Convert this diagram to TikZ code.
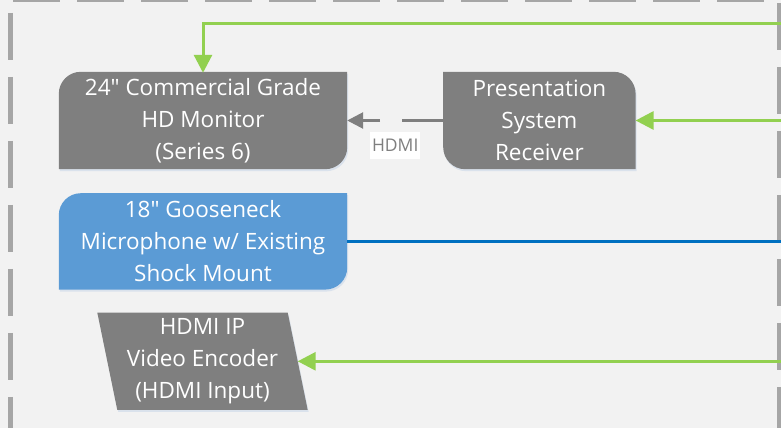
\documentclass[tikz,border=0pt]{standalone}
\usepackage{fontspec}
\setmainfont{Open Sans}[Ligatures=TeXOff]
\usetikzlibrary{positioning}
\usetikzlibrary{arrows.meta}
\usetikzlibrary{calc,backgrounds}
\definecolor{boxgray}{HTML}{7F7F7F}
\definecolor{micblue}{HTML}{5B9BD5}
\definecolor{wireblue}{HTML}{0070C0}
\definecolor{wiregreen}{HTML}{92D050}
\definecolor{framegray}{HTML}{A6A6A6}
\definecolor{paper}{HTML}{F2F2F2}
\definecolor{glow}{HTML}{DAE2EC}
\tikzset{
	av unit/.style={
		text=white, align=center, inner sep=0pt,
		font=\fontsize{22.5}{32}\selectfont
	},
	av fill/.style={
		fill=#1,
		preaction={fill=glow, transform canvas={shift={(1pt,-2pt)}}}
	},
	av frame/.style={
		draw=framegray, line width=5pt, dash pattern=on 47pt off 17pt
	},
	green wire/.style={
		draw=wiregreen, line width=3pt,
		-{Triangle[length=18pt,width=18pt]}
	},
	blue wire/.style={
		draw=wireblue, line width=2.5pt
	},
	hdmi wire/.style={
		draw=boxgray, line width=2.7pt, dash pattern=on 41pt off 22pt on 80pt,
		-{Triangle[length=16pt,width=16pt]}
	},
	hdmi tag/.style={
		fill=white, text=boxgray, inner sep=0pt,
		minimum width=50pt, minimum height=27pt,
		font=\fontsize{17.5}{20}\selectfont
	}
}

\begin{document}
\begin{tikzpicture}[x=1pt, y=1pt]
	\useasboundingbox (0,0) rectangle (781,428);
	
	\node[av unit, minimum width=288pt, minimum height=95pt] (monitor) at (203,307.5)
		{24" Commercial Grade\\HD Monitor\\(Series 6)};
	\node[av unit, minimum width=192pt, minimum height=95pt, right=96pt of monitor] (receiver)
		{Presentation\\System\\Receiver};
	\node[av unit, minimum width=288pt, minimum height=94pt, below=26pt of monitor] (mic)
		{18" Gooseneck\\Microphone w/ Existing\\Shock Mount};
	\node[av unit, minimum width=190pt, minimum height=97pt, below=24pt of mic, xshift=-0.5pt] (encoder)
		{HDMI IP\\Video Encoder\\(HDMI Input)};
	
	\begin{scope}[on background layer]
		\fill[paper] (0,0) rectangle (781,428);
		% two corners rounded, two square
		\foreach \b/\c in {monitor/boxgray, mic/micblue} {
			\fill[av fill=\c] ([yshift=-1pt]\b.south west) -- ([yshift=-21pt]\b.north west)
				arc[start angle=180, end angle=90, radius=22pt] -- ([yshift=1pt]\b.north east)
				-- ([yshift=21pt]\b.south east)
				arc[start angle=0, end angle=-90, radius=22pt] -- cycle;
		}
		\fill[av fill=boxgray] ([xshift=22pt,yshift=-1pt]receiver.south west)
			arc[start angle=270, end angle=180, radius=22pt] -- ([yshift=1pt]receiver.north west)
			-- ([xshift=-22pt,yshift=1pt]receiver.north east)
			arc[start angle=90, end angle=0, radius=22pt] -- ([yshift=-1pt]receiver.south east) -- cycle;
		\fill[av fill=boxgray] ([xshift=-10pt]encoder.north west) -- ([xshift=-10pt]encoder.north east)
			-- ([xshift=10pt]encoder.south east) -- ([xshift=10pt]encoder.south west) -- cycle;
	\end{scope}
	
	% dashed room outline
	\draw[av frame] (13,428) -- (781,428);
	\draw[av frame] (10.5,415) -- (10.5,0);
	\draw[av frame] (779.5,425) -- (779.5,0);
	
	\coordinate (edge) at (781,0);
	\coordinate (feed) at (781,404);
	
	\draw[green wire] (feed) -| (monitor.north);
	\foreach \d in {receiver, encoder} {
		\draw[green wire] (\d.east -| edge) -- (\d.east);
	}
	\draw[blue wire] (mic.east) -- (mic.east -| edge);
	\draw[hdmi wire] (receiver.west) -- (monitor.east)
		node[hdmi tag, midway, below=10pt] (hdmi) {HDMI};
\end{tikzpicture}
\end{document}
